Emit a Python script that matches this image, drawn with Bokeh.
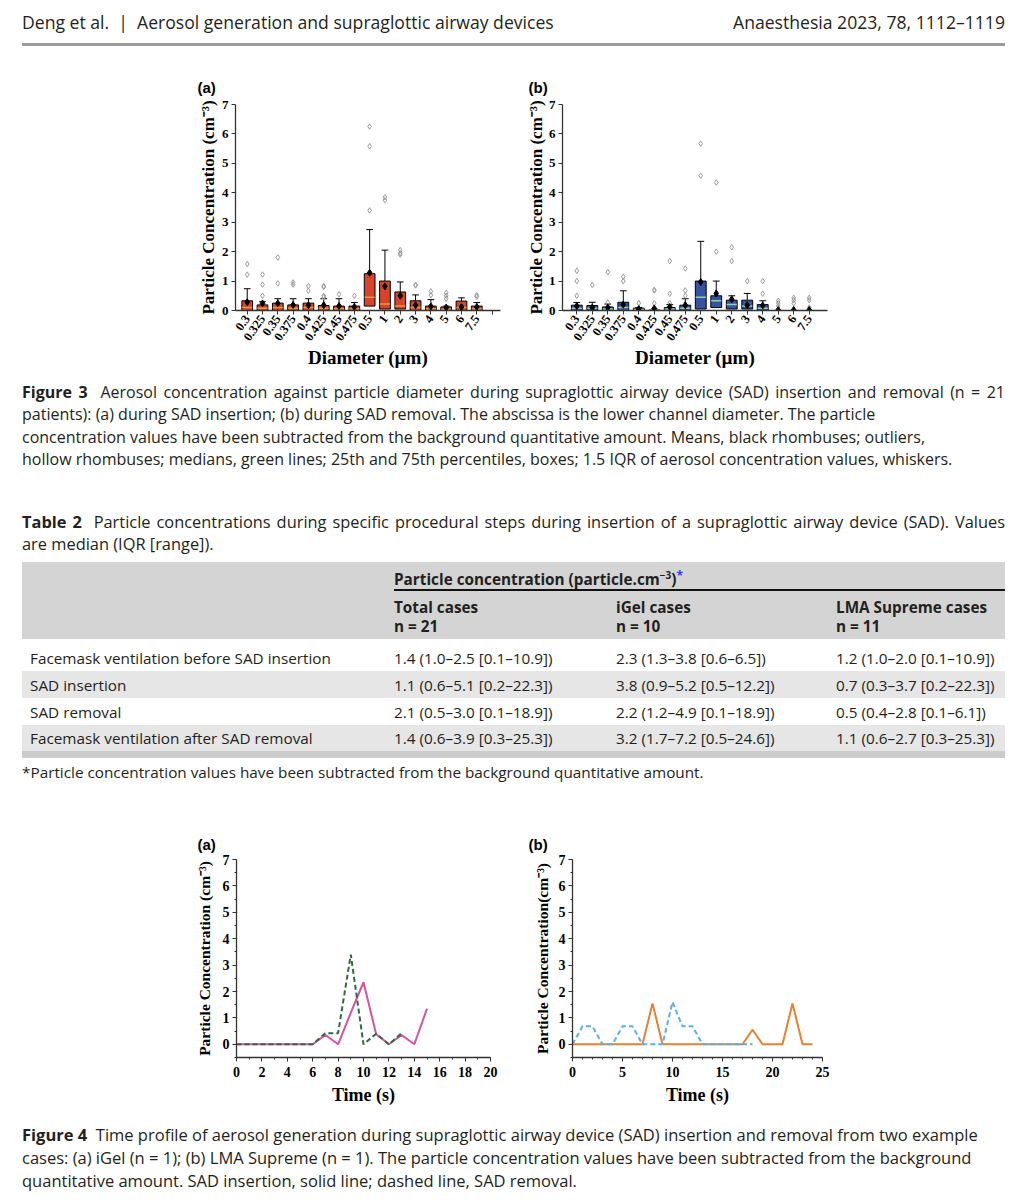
from bokeh.plotting import figure
from bokeh.layouts import column, row
from bokeh.models import Div, Spacer, FixedTicker
from bokeh.embed import file_html
from bokeh.resources import INLINE

# ---------------- data ----------------
diam_cats = ["0.3", "0.325", "0.35", "0.375", "0.4", "0.425", "0.45", "0.475",
             "0.5", "1", "2", "3", "4", "5", "6", "7.5"]

# Figure 3a (SAD insertion)
ins_q1 = [0.0, 0.0, 0.0, 0.0, 0.0, 0.0, 0.0, 0.0, 0.15, 0.05, 0.05, 0.0, 0.0, 0.0, 0.0, 0.0]
ins_med = [0.1, 0.08, 0.1, 0.08, 0.1, 0.08, 0.06, 0.06, 0.45, 0.22, 0.15, 0.1, 0.06, 0.04, 0.1, 0.06]
ins_q3 = [0.33, 0.19, 0.25, 0.19, 0.25, 0.17, 0.15, 0.15, 1.25, 1.0, 0.63, 0.33, 0.15, 0.12, 0.32, 0.15]
ins_whi = [0.74, 0.3, 0.4, 0.4, 0.4, 0.4, 0.4, 0.27, 2.75, 2.05, 0.97, 0.53, 0.37, 0.15, 0.43, 0.27]
ins_mean = [0.28, 0.24, 0.24, 0.19, 0.18, 0.18, 0.15, 0.12, 1.28, 0.82, 0.5, 0.18, 0.14, 0.1, 0.12, 0.12]
ins_out = [[1.58, 1.22], [1.22, 0.88, 0.5], [1.8, 0.92], [0.95, 0.88], [0.83, 0.67],
           [0.83, 0.8, 0.5, 0.45], [0.55], [0.5], [6.25, 5.58, 3.4], [3.85, 3.75],
           [2.05, 1.95, 1.9], [0.87, 0.85], [0.65, 0.52], [0.6, 0.5, 0.4], [], [0.52, 0.47]]

# Figure 3b (SAD removal)
rem_q1 = [0.0, 0.0, 0.0, 0.0, 0.0, 0.0, 0.0, 0.0, 0.05, 0.1, 0.05, 0.05, 0.0, 0.0, 0.0, 0.0]
rem_med = [0.08, 0.08, 0.05, 0.1, 0.03, 0.01, 0.05, 0.08, 0.45, 0.33, 0.2, 0.15, 0.08, 0.0, 0.0, 0.0]
rem_q3 = [0.18, 0.17, 0.12, 0.28, 0.08, 0.02, 0.1, 0.18, 1.0, 0.5, 0.35, 0.35, 0.2, 0.0, 0.0, 0.0]
rem_whi = [0.27, 0.28, 0.22, 0.67, 0.1, 0.05, 0.2, 0.4, 2.35, 1.0, 0.5, 0.58, 0.33, 0.0, 0.0, 0.0]
rem_mean = [0.15, 0.1, 0.1, 0.2, 0.05, 0.07, 0.12, 0.18, 0.97, 0.58, 0.38, 0.18, 0.17, 0.02, 0.02, 0.02]
rem_out = [[1.35, 1.0, 0.5], [0.87], [1.3, 0.27], [1.15, 1.0], [0.25], [0.7, 0.68, 0.25],
           [1.68, 0.57, 0.25], [1.43, 0.68, 0.5], [5.67, 4.58], [4.35, 2.0], [2.15, 1.68],
           [1.0], [1.0, 0.57], [0.33, 0.25, 0.15], [0.43, 0.35, 0.25], [0.43, 0.35, 0.1]]

# Table 2
row_labels = ["Facemask ventilation before SAD insertion", "SAD insertion", "SAD removal",
              "Facemask ventilation after SAD removal"]
total_vals = ["1.4 (1.0–2.5 [0.1–10.9])", "1.1 (0.6–5.1 [0.2–22.3])",
              "2.1 (0.5–3.0 [0.1–18.9])", "1.4 (0.6–3.9 [0.3–25.3])"]
igel_vals = ["2.3 (1.3–3.8 [0.6–6.5])", "3.8 (0.9–5.2 [0.5–12.2])",
             "2.2 (1.2–4.9 [0.1–18.9])", "3.2 (1.7–7.2 [0.5–24.6])"]
lma_vals = ["1.2 (1.0–2.0 [0.1–10.9])", "0.7 (0.3–3.7 [0.2–22.3])",
            "0.5 (0.4–2.8 [0.1–6.1])", "1.1 (0.6–2.7 [0.3–25.3])"]
col_heads = [("Total cases", "n = 21"), ("iGel cases", "n = 10"), ("LMA Supreme cases", "n = 11")]

# Figure 4a (iGel)
igel_ins_t = [0, 1, 2, 3, 4, 5, 6, 7, 8, 9, 10, 11, 12, 13, 14, 15]
igel_ins = [0, 0, 0, 0, 0, 0, 0, 0.35, 0, 1.2, 2.35, 0.38, 0, 0.35, 0, 1.35]
igel_rem_t = [0, 1, 2, 3, 4, 5, 6, 7, 8, 9, 10, 11, 12, 13]
igel_rem = [0, 0, 0, 0, 0, 0, 0, 0.42, 0.42, 3.4, 0, 0.4, 0, 0.42]

# Figure 4b (LMA Supreme)
lma_ins_t = list(range(0, 25))
lma_ins = [0, 0, 0, 0, 0, 0, 0, 0, 1.55, 0, 0, 0, 0, 0, 0, 0, 0, 0, 0.55, 0, 0, 0, 1.55, 0, 0]
lma_rem_t = list(range(0, 19))
lma_rem = [0, 0.68, 0.68, 0, 0, 0.68, 0.68, 0, 0, 0, 1.6, 0.68, 0.68, 0, 0, 0, 0, 0, 0]

SERIF = "Liberation Serif"
SANS = "Open Sans"
TXT = "#231f20"


def style_axes(p, xtick_size, ytick_size, ylab_size, xlab_size):
    p.xgrid.visible = False
    p.ygrid.visible = False
    p.outline_line_color = None
    p.background_fill_color = "white"
    p.border_fill_color = "white"
    for ax in (p.xaxis[0], p.yaxis[0]):
        ax.axis_line_color = "#333333"
        ax.axis_line_width = 1.3
        ax.major_tick_line_color = "#333333"
        ax.minor_tick_line_color = "#333333"
        ax.major_tick_out = 4
        ax.major_tick_in = 0
        ax.minor_tick_out = 2
        ax.minor_tick_in = 0
        ax.major_label_text_font = SERIF
        ax.major_label_text_font_style = "bold"
        ax.major_label_text_color = "black"
        ax.axis_label_text_font = SERIF
        ax.axis_label_text_font_style = "bold"
        ax.axis_label_text_color = "black"
    p.xaxis.major_label_text_font_size = xtick_size
    p.yaxis.major_label_text_font_size = ytick_size
    p.yaxis.axis_label_text_font_size = ylab_size
    p.xaxis.axis_label_text_font_size = xlab_size


def panel_title(p, txt, offset, standoff):
    p.title.text = txt
    p.title.align = "left"
    p.title.offset = offset
    p.title.standoff = standoff
    p.title.text_font = "Liberation Sans"
    p.title.text_font_style = "bold"
    p.title.text_font_size = "15px"
    p.title.text_color = "black"


def box_fig(q1, med, q3, whi, mean, outl, fill, med_color, xr, left, extra_tick, ylab_standoff, label, loff):
    n = len(diam_cats)
    xs = list(range(1, n + 1))
    frame_w, frame_h = 265, 206
    p = figure(width=320, height=313, x_range=xr, y_range=(0, 7),
               output_backend="svg", toolbar_location=None,
               min_border_left=left, min_border_right=320 - left - frame_w,
               min_border_top=42, min_border_bottom=313 - 42 - frame_h)
    bx = [x for x, a, b in zip(xs, q1, q3) if b > a]
    bb = [a for a, b in zip(q1, q3) if b > a]
    bt = [b for a, b in zip(q1, q3) if b > a]
    wx = [x for x, b, w in zip(xs, q3, whi) if w > b]
    wb = [b for b, w in zip(q3, whi) if w > b]
    wt = [w for b, w in zip(q3, whi) if w > b]
    p.segment(x0=wx, y0=wb, x1=wx, y1=wt, line_color="black", line_width=1)
    p.segment(x0=[x - 0.22 for x in wx], y0=wt, x1=[x + 0.22 for x in wx], y1=wt,
              line_color="black", line_width=1)
    p.vbar(x=bx, width=0.7, bottom=bb, top=bt, fill_color=fill, line_color="black", line_width=1)
    mm = [m for m, a, b in zip(med, q1, q3) if b > a]
    p.segment(x0=[x - 0.33 for x in bx], y0=mm, x1=[x + 0.33 for x in bx], y1=mm,
              line_color=med_color, line_width=1.5)
    ox = [x for x, o in zip(xs, outl) for _ in o]
    oy = [v for o in outl for v in o]
    p.scatter(ox, oy, marker="diamond", size=5.5, fill_color=None, line_color="#9a9a9a", line_width=1)
    p.scatter(xs, mean, marker="diamond", size=7, fill_color="black", line_color="black")
    style_axes(p, "12.5px", "13px", "17px", "19px")
    ticks = xs + ([n + 1] if extra_tick else [])
    p.xaxis.ticker = FixedTicker(ticks=ticks, minor_ticks=[])
    overrides = {x: c for x, c in zip(xs, diam_cats)}
    if extra_tick:
        overrides[n + 1] = ""
    p.xaxis.major_label_overrides = overrides
    p.xaxis.major_label_orientation = 0.96
    p.xaxis.major_label_standoff = 2
    p.xaxis.axis_label = "Diameter (µm)"
    p.xaxis.axis_label_standoff = 0
    p.yaxis.ticker = FixedTicker(ticks=list(range(0, 8)), minor_ticks=[])
    p.yaxis.major_label_standoff = 3
    p.yaxis.axis_label = "Particle Concentration (cm⁻³)"
    p.yaxis.axis_label_standoff = ylab_standoff
    panel_title(p, label, loff, 17)
    return p


def line_fig(t1, y1, c1, t2, y2, c2, xmax, step, left, frame_w, frame_h, ylab, ylab_standoff, label, loff):
    p = figure(width=320, height=325, x_range=(0, xmax), y_range=(-0.5, 7),
               output_backend="svg", toolbar_location=None,
               min_border_left=left, min_border_right=320 - left - frame_w,
               min_border_top=69, min_border_bottom=325 - 69 - frame_h)
    p.line(t1, y1, line_color=c1, line_width=2)
    p.line(t2, y2, line_color=c2, line_width=2, line_dash="5 3")
    style_axes(p, "14px", "14px", "15.5px", "18px")
    p.xaxis.ticker = FixedTicker(ticks=list(range(0, xmax + 1, step)), minor_ticks=list(range(0, xmax + 1)))
    p.yaxis.ticker = FixedTicker(ticks=list(range(0, 8)), minor_ticks=[v / 2 for v in range(-1, 15)])
    p.xaxis.major_label_standoff = 5
    p.xaxis.axis_label = "Time (s)"
    p.xaxis.axis_label_standoff = 5
    p.yaxis.major_label_standoff = 3
    p.yaxis.axis_label = ylab
    p.yaxis.axis_label_standoff = ylab_standoff
    panel_title(p, label, loff, 14)
    return p


p3a = box_fig(ins_q1, ins_med, ins_q3, ins_whi, ins_mean, ins_out, "#d8432c", "#d6a23a",
              (0.235, 17.55), 45, True, 1, "(a)", -38)
p3b = box_fig(rem_q1, rem_med, rem_q3, rem_whi, rem_mean, rem_out, "#3553a0", "#8fd3a0",
              (0.077, 17.18), 47, False, 0, "(b)", -34)

p4a = line_fig(igel_ins_t, igel_ins, "#d9529e", igel_rem_t, igel_rem, "#2e6a3a", 20, 2,
               46, 254, 200, "Particle Concentration (cm⁻³)", 7, "(a)", -39)
p4b = line_fig(lma_ins_t, lma_ins, "#e8802e", lma_rem_t, lma_rem, "#5cb0e0", 25, 5,
               57, 250, 198, "Particle Concentration(cm⁻³)", 5, "(b)", -44)

FONT = f"font-family:'{SANS}',sans-serif;color:{TXT};"
CAP = 16


def abs_line(top, left, html, size=CAP, lh=22, extra=""):
    return (f'<div style="position:absolute;top:{top}px;left:{left}px;white-space:nowrap;'
            f'font-size:{size}px;line-height:{lh}px;{extra}">{html}</div>')


def just_line(top, left, width, html, size=CAP, lh=22):
    return (f'<div style="position:absolute;top:{top}px;left:{left}px;width:{width}px;'
            f'font-size:{size}px;line-height:{lh}px;text-align:justify;text-align-last:justify;'
            f'white-space:normal;">{html}</div>')


# header
HS = 17.6
header_html = (f'<div style="position:relative;width:1001px;height:54px;{FONT}">'
               + abs_line(3, 14, "Deng et al. &nbsp;|&nbsp; Aerosol generation and supraglottic airway devices", HS, 22)
               + f'<div style="position:absolute;top:3px;right:4px;white-space:nowrap;font-size:{HS}px;line-height:22px;">Anaesthesia 2023, 78, 1112–1119</div>'
               + '<div style="position:absolute;top:35px;left:14px;width:983px;height:3px;background:#9a9a9a;"></div>'
               + '</div>')
header = Div(text=header_html, width=1001, height=54, margin=0)

cap3_lines = [
    "<b>Figure 3</b>&nbsp;&nbsp;Aerosol concentration against particle diameter during supraglottic airway device (SAD) insertion and removal (n&nbsp;=&nbsp;21",
    "patients): (a) during SAD insertion; (b) during SAD removal. The abscissa is the lower channel diameter. The particle",
    "concentration values have been subtracted from the background quantitative amount. Means, black rhombuses; outliers,",
    "hollow rhombuses; medians, green lines; 25th and 75th percentiles, boxes; 1.5 IQR of aerosol concentration values, whiskers.",
]
cap3_html = f'<div style="position:relative;width:1001px;height:105px;{FONT}">'
for i, ln in enumerate(cap3_lines):
    if i == 0:
        cap3_html += just_line(6, 14, 983, ln)
    else:
        cap3_html += abs_line(6 + i * 22.4, 14, ln)
cap3_html += "</div>"
cap3 = Div(text=cap3_html, width=1001, height=105, margin=0)

# table block (y 480 .. 790 in page coordinates)
T0 = 480
TB = 15.3
tb = f'<div style="position:relative;width:1001px;height:310px;{FONT}">'
tb += just_line(522 - T0 - 11, 14, 983, "<b>Table 2</b>&nbsp;&nbsp;Particle concentrations during specific procedural steps during insertion of a supraglottic airway device (SAD). Values", 16.4)
tb += abs_line(544 - T0 - 11, 14, "are median (IQR [range]).", 16.4)
tb += f'<div style="position:absolute;top:{562 - T0}px;left:14px;width:983px;height:77px;background:#d4d4d4;"></div>'
tb += abs_line(579 - T0 - 11, 386,
               'Particle concentration (particle.cm<span style="font-size:10px;position:relative;top:-6px;">−3</span>)'
               '<span style="color:#2a3cff;font-size:12px;position:relative;top:-5px;">*</span>',
               TB, 22, "font-weight:bold;")
tb += f'<div style="position:absolute;top:{589 - T0}px;left:386px;width:611px;height:2px;background:#111;"></div>'
col_x = [386, 608, 828]
for (h1, h2), cx in zip(col_heads, col_x):
    tb += abs_line(607 - T0 - 11, cx, h1, TB, 22, "font-weight:bold;")
    tb += abs_line(626 - T0 - 11, cx, h2, TB, 22, "font-weight:bold;")
row_centers = [658, 684.5, 711.5, 737.5]
row_bands = [(671, 26.5), (724.5, 26)]
for top, h in row_bands:
    tb += f'<div style="position:absolute;top:{top - T0}px;left:14px;width:983px;height:{h}px;background:#e6e6e6;"></div>'
tb += f'<div style="position:absolute;top:{750.5 - T0}px;left:14px;width:983px;height:7px;background:#cbcbcb;"></div>'
for lab, a, b, c, yc in zip(row_labels, total_vals, igel_vals, lma_vals, row_centers):
    tb += abs_line(yc - T0 - 11, 22, lab, TB)
    for v, cx in zip((a, b, c), col_x):
        tb += abs_line(yc - T0 - 11, cx, v, TB)
tb += abs_line(771.5 - T0 - 11, 14, "*Particle concentration values have been subtracted from the background quantitative amount.", TB)
tb += "</div>"
table = Div(text=tb, width=1001, height=310, margin=0)

cap4_lines = [
    "<b>Figure 4</b>&nbsp;&nbsp;Time profile of aerosol generation during supraglottic airway device (SAD) insertion and removal from two example",
    "cases: (a) iGel (n = 1); (b) LMA Supreme (n = 1). The particle concentration values have been subtracted from the background",
    "quantitative amount. SAD insertion, solid line; dashed line, SAD removal.",
]
cap4_html = f'<div style="position:relative;width:1001px;height:77px;{FONT}">'
for i, ln in enumerate(cap4_lines):
    cap4_html += abs_line(9 + i * 23, 14, ln, 16.5)
cap4_html += "</div>"
cap4 = Div(text=cap4_html, width=1001, height=77, margin=0)

row3 = row(Spacer(width=182, height=313), p3a, Spacer(width=5, height=313), p3b, spacing=0)
row4 = row(Spacer(width=182, height=325), p4a, Spacer(width=5, height=325), p4b, spacing=0)

inner = column(header, row3, cap3, table, row4, cap4, spacing=0)
layout = column(Spacer(width=1009, height=8),
                row(Spacer(width=8, height=1184), inner, spacing=0),
                spacing=0)

open("out.html", "w").write(file_html(layout, INLINE, title="Anaesthesia figure"))
